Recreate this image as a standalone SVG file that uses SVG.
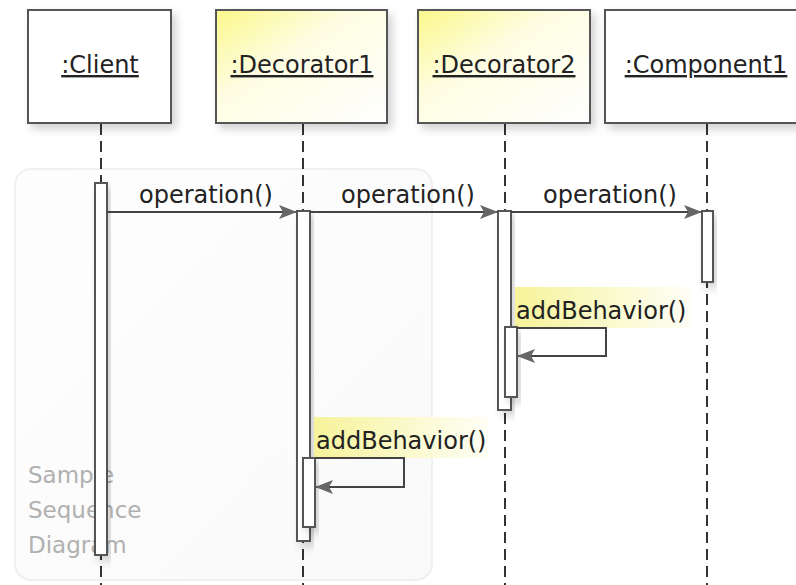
<svg xmlns="http://www.w3.org/2000/svg" width="796" height="585" viewBox="0 0 796 585">
  <defs>
    <style>
      .box { stroke: #555; stroke-width: 2; }
      .title { font-family: "DejaVu Sans", "Open Sans", sans-serif; font-size: 24px; fill: #222; text-anchor: middle; text-decoration: underline; }
      .lbl { font-family: "DejaVu Sans", "Open Sans", sans-serif; font-size: 24px; fill: #222; }
      .note { font-family: "DejaVu Sans", "Open Sans", sans-serif; font-size: 23px; fill: #b0b0b0; }
      .life { stroke: #333; stroke-width: 2; stroke-dasharray: 11 6; fill: none; }
      .act { fill: #fff; stroke: #555; stroke-width: 2; }
      .msg { stroke: #444; stroke-width: 2; fill: none; }
    </style>
    <linearGradient id="yellowFill" x1="0" y1="0" x2="1" y2="1">
      <stop offset="0" stop-color="#fbf88a"/>
      <stop offset="0.4" stop-color="#fefde2"/>
      <stop offset="1" stop-color="#ffffff"/>
    </linearGradient>
    <linearGradient id="labelGlow" x1="0" y1="0" x2="1" y2="0">
      <stop offset="0" stop-color="#f6f39a"/>
      <stop offset="0.6" stop-color="#fbfad2"/>
      <stop offset="1" stop-color="#fefef6"/>
    </linearGradient>
    <linearGradient id="panelFill" x1="0" y1="0" x2="1" y2="1">
      <stop offset="0" stop-color="#fefefe"/>
      <stop offset="1" stop-color="#f9f9f9"/>
    </linearGradient>
    <filter id="shadow" x="-20%" y="-20%" width="150%" height="150%">
      <feDropShadow dx="4" dy="5" stdDeviation="4" flood-color="#000" flood-opacity="0.18"/>
    </filter>
    <marker id="arrow" markerWidth="18" markerHeight="14" refX="17" refY="7" orient="auto" markerUnits="userSpaceOnUse">
      <path d="M0,0 L18,7 L0,14 L4,7 Z" fill="#666"/>
    </marker>
  </defs>

  <rect width="796" height="585" fill="#fff"/>

  <!-- background panel with caption -->
  <g id="panel">
    <rect x="15" y="169" width="417" height="411" rx="16" fill="url(#panelFill)" stroke="#f0f0f0" stroke-width="2"/>
    <text class="note" x="28" y="483">Sample</text>
    <text class="note" x="28" y="518">Sequence</text>
    <text class="note" x="28" y="553">Diagram</text>
  </g>

  <!-- lifelines -->
  <g id="lifelines">
    <line class="life" x1="101" y1="124" x2="101" y2="585"/>
    <line class="life" x1="303" y1="124" x2="303" y2="585"/>
    <line class="life" x1="505" y1="124" x2="505" y2="585"/>
    <line class="life" x1="707" y1="124" x2="707" y2="585"/>
  </g>

  <g id="client">
    <rect class="box" x="28" y="10" width="143" height="113" fill="#fff" filter="url(#shadow)"/>
    <text class="title" x="100" y="73">:Client</text>
    <rect class="act" x="95" y="183" width="12" height="372" filter="url(#shadow)"/>
  </g>

  <g id="decorator1">
    <rect class="box" x="216" y="10" width="171" height="113" fill="url(#yellowFill)" filter="url(#shadow)"/>
    <text class="title" x="302" y="73">:Decorator1</text>
    <rect class="act" x="297" y="211" width="13" height="330" filter="url(#shadow)"/>
  </g>

  <g id="decorator2">
    <rect class="box" x="418" y="10" width="172" height="113" fill="url(#yellowFill)" filter="url(#shadow)"/>
    <text class="title" x="504" y="73">:Decorator2</text>
    <rect class="act" x="498" y="211" width="13" height="199" filter="url(#shadow)"/>
  </g>

  <g id="component1">
    <rect class="box" x="605" y="10" width="203" height="113" fill="#fff" filter="url(#shadow)"/>
    <text class="title" x="706" y="73">:Component1</text>
    <rect class="act" x="702" y="211" width="11" height="71" filter="url(#shadow)"/>
  </g>

  <!-- self-call labels -->
  <g id="labels">
    <rect x="515" y="287" width="176" height="41" fill="url(#labelGlow)"/>
    <text class="lbl" x="516" y="319">addBehavior()</text>
    <rect x="314" y="417" width="174" height="41" fill="url(#labelGlow)"/>
    <text class="lbl" x="316" y="449">addBehavior()</text>
  </g>

  <!-- nested activations -->
  <g id="nested">
    <rect class="act" x="505" y="327" width="12" height="70" filter="url(#shadow)"/>
    <rect class="act" x="303" y="458" width="12" height="69" filter="url(#shadow)"/>
  </g>

  <!-- messages -->
  <g id="connectors">
    <line class="msg" x1="107" y1="212" x2="296" y2="212" marker-end="url(#arrow)"/>
    <text class="lbl" x="206" y="203" text-anchor="middle">operation()</text>
    <line class="msg" x1="310" y1="212" x2="497" y2="212" marker-end="url(#arrow)"/>
    <text class="lbl" x="408" y="203" text-anchor="middle">operation()</text>
    <line class="msg" x1="511" y1="212" x2="701" y2="212" marker-end="url(#arrow)"/>
    <text class="lbl" x="610" y="203" text-anchor="middle">operation()</text>
    <path class="msg" d="M517,328 H606 V356 H518" marker-end="url(#arrow)"/>
    <path class="msg" d="M315,458 H404 V487 H316" marker-end="url(#arrow)"/>
  </g>
</svg>
